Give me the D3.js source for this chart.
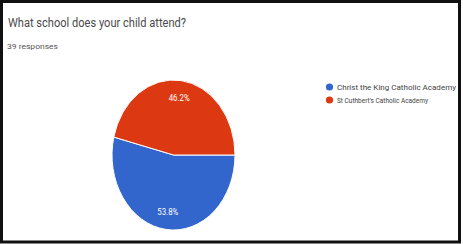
<!DOCTYPE html>
<html>
<head>
<meta charset="utf-8">
<script src="https://cdn.jsdelivr.net/npm/d3@7"></script>
<style>
  body { margin: 0; background: #fff; }
  text { font-family: Roboto, "Liberation Sans", sans-serif; }
</style>
</head>
<body>
<div id="chart"></div>
<script>
// data
var categories = ['Christ the King Catholic Academy', "St Cuthbert's Catholic Academy"];
var values = [21, 18];
var colors = ['#3366cc', '#dc3912'];
var title = 'What school does your child attend?';
var subtitle = '39 responses';

var width = 463, height = 244;
var cx = 173.5, cy = 155, rx = 61.5, ry = 75;

var svg = d3.select('#chart')
  .append('svg')
  .attr('width', width)
  .attr('height', height);

// frame
svg.append('rect')
  .attr('x', 1.5).attr('y', 1.5)
  .attr('width', 458).attr('height', 240.5)
  .attr('fill', '#fff')
  .attr('stroke', '#111')
  .attr('stroke-width', 3);

svg.append('text')
  .attr('x', 8).attr('y', 27)
  .attr('font-size', 12.5)
  .attr('fill', '#4a4a4a')
  .attr('textLength', 178)
  .attr('lengthAdjust', 'spacingAndGlyphs')
  .text(title);

svg.append('text')
  .attr('x', 7).attr('y', 49)
  .attr('font-size', 8)
  .attr('fill', '#555')
  .attr('textLength', 51)
  .attr('lengthAdjust', 'spacingAndGlyphs')
  .text(subtitle);

var total = d3.sum(values);
var pie = d3.pie().sort(null)
  .startAngle(Math.PI / 2)
  .endAngle(Math.PI / 2 + 2 * Math.PI);
var arcs = pie(values);

// unit arc, stretched into the ellipse of the picture
var arc = d3.arc().innerRadius(0).outerRadius(1);
var labelArc = d3.arc().innerRadius(1.52).outerRadius(0);

var g = svg.append('g')
  .attr('transform', 'translate(' + cx + ',' + cy + ') scale(' + rx + ',' + ry + ')');

g.selectAll('path')
  .data(arcs)
  .enter().append('path')
  .attr('d', arc)
  .attr('fill', (d, i) => colors[i])
  .attr('stroke', '#fff')
  .attr('stroke-width', 1)
  .attr('vector-effect', 'non-scaling-stroke');

svg.selectAll('.pct')
  .data(arcs)
  .enter().append('text')
  .attr('class', 'pct')
  .attr('x', d => cx + labelArc.centroid(d)[0] * rx)
  .attr('y', d => cy + labelArc.centroid(d)[1] * ry)
  .attr('dy', '0.35em')
  .attr('text-anchor', 'middle')
  .attr('font-size', 8.5)
  .attr('fill', '#fff')
  .attr('textLength', 21)
  .attr('lengthAdjust', 'spacingAndGlyphs')
  .text(d => (d.value / total * 100).toFixed(1) + '%');

var legend = svg.selectAll('.legendCells')
  .data(categories)
  .enter().append('g')
  .attr('class', 'legendCells')
  .attr('transform', (d, i) => 'translate(329.5,' + (87 + i * 13) + ')');

legend.append('circle')
  .attr('r', 3.6)
  .attr('fill', (d, i) => colors[i]);

legend.append('text')
  .attr('x', 7.5)
  .attr('dy', '0.35em')
  .attr('font-size', 8)
  .attr('fill', '#444')
  .attr('textLength', (d, i) => i === 0 ? 119 : 91)
  .attr('lengthAdjust', 'spacingAndGlyphs')
  .text(d => d);
</script>
</body>
</html>
